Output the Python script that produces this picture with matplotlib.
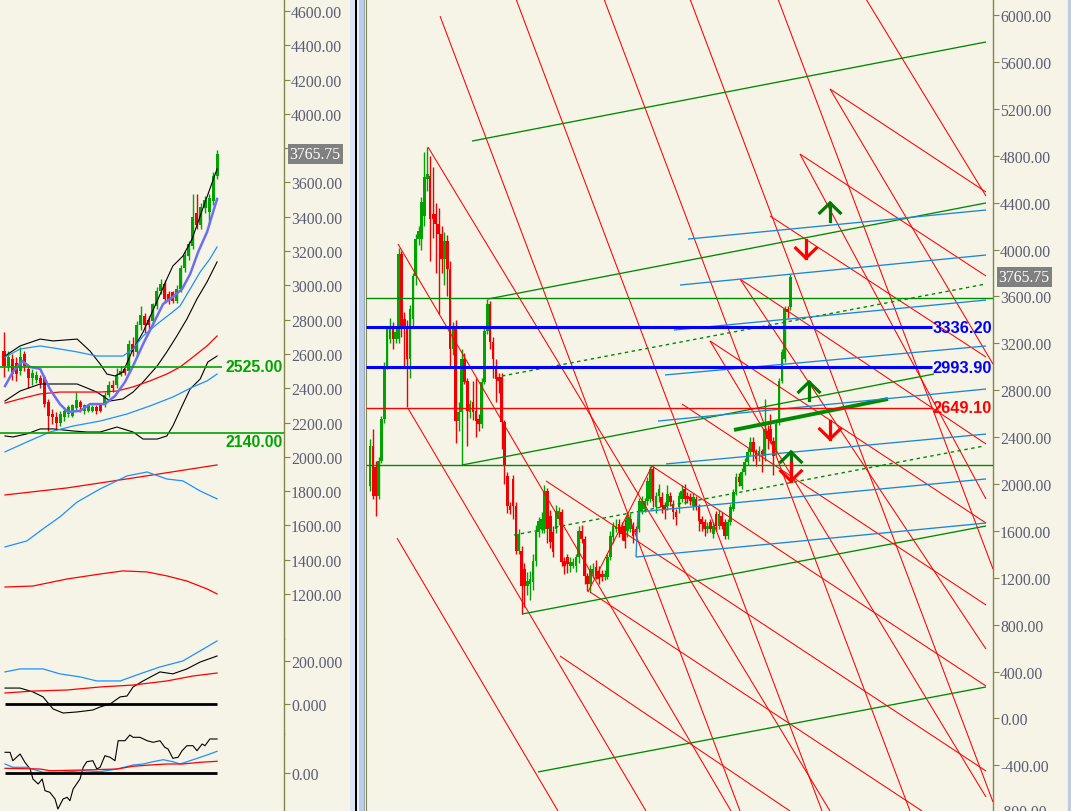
import matplotlib
matplotlib.use('Agg')
import matplotlib.pyplot as plt
import matplotlib.transforms as mtransforms
from matplotlib.patches import Rectangle
import numpy as np

# ---------------- data: right panel (bar index, price) ----------------
r_open = [1983,2324,2145,1898,2196,2554,3006,3237,3347,3237,
          3237,3962,3407,3347,3066,3407,3774,4090,
          4090,4286,4601,4627,4303,4303,4218,4132,3919,4073,3834,3151,3347,2537,2614,3066,2878,2614,
          2700,2622,2554,2512,2870,3305,3535,3210,3006,2912,2912,2529,2068,1812,
          2043,1812,1429,1429,1275,1130,1147,1164,1343,1590,1616,1616,1940,1727,1590,1616,1701,1761,1343,1377,
          1300,1300,1300,1377,1600,1531,1215,1147,1233,1292,1258,1233,1207,
          1207,1377,1548,1616,1659,1633,1642,1600,1616,1642,1616,1616,1770,1787,1855,1872,2128,1804,1898,1889,
          1821,1812,
          1898,1830,1761,1804,1872,1957,
          1898,1889,1812,1872,1812,1701,1676,
          1616,1676,1574,1744,1642,1727,1676,1556,1676,1787,1932,2060,1983,2102,2188,2273,2358,2281,2239,2281,
          2239,2452,2469,2367,2273,2529,2878,3066,3492,3509]
r_close = [2324,1898,1898,2196,2554,3006,3322,3339,3237,3300,
           3962,3322,3322,3066,3492,3774,4090,4160,
           4405,4618,4644,4260,4260,4218,4132,3919,4073,3834,3151,3347,2537,2614,3066,2870,2622,2680,
           2614,2537,2512,2870,3305,3535,3210,3066,2895,2878,2529,2153,1812,1780,
           1812,1429,1574,1130,1130,1173,1190,1343,1590,1684,1701,1940,1616,1505,1420,1770,1770,1335,1300,1318,
           1335,1335,1377,1600,1531,1215,1147,1275,1275,1215,1190,1207,1233,
           1377,1556,1642,1642,1600,1574,1514,1718,1701,1556,1590,1855,1855,1855,2026,2128,1855,1898,1957,1804,
           1787,1915,
           1846,1761,1718,1898,1940,1872,
           1872,1855,1889,1812,1684,1659,1616,
           1642,1616,1642,1642,1744,1642,1556,1676,1804,1932,2060,2017,2102,2188,2273,2358,2273,2213,2281,2256,
           2469,2384,2367,2239,2512,2878,3125,3492,3467,3766]
r_high = [2384,2469,2200,2230,2580,3040,3350,3420,3380,3350,
          4010,3990,3470,3400,3530,3800,4130,4200,
          4450,4830,4874,4800,4700,4400,4350,4200,4150,4120,3900,3380,3400,2700,3150,3120,2900,2720,
          2880,2900,2600,2900,3350,3578,3560,3250,3070,2950,2950,2550,2100,1850,
          2080,1850,1620,1470,1330,1250,1260,1400,1650,1720,1760,1990,1970,1780,1640,1820,1800,1790,1380,1400,
          1380,1370,1400,1640,1650,1560,1240,1310,1330,1350,1300,1270,1270,
          1400,1600,1680,1700,1700,1680,1700,1760,1750,1680,1640,1880,1900,1880,2060,2150,2150,1930,2000,1930,
          1850,1990,
          1930,1860,1790,1930,1990,2000,
          1930,1920,1920,1900,1830,1730,1700,
          1680,1700,1680,1770,1780,1760,1700,1700,1830,1960,2090,2090,2140,2220,2310,2400,2400,2300,2320,2300,
          2725,2500,2600,2400,2540,2900,3150,3520,3520,3790]
r_low = [1940,1872,1727,1870,2180,2520,2980,3200,3150,3200,
         3200,3250,3000,2657,2900,3350,3700,4040,
         4000,4200,4500,3900,4100,3800,3450,3800,3700,3600,3000,3100,2350,2450,2162,2850,2324,2560,
         2550,2400,2450,2480,2850,3280,3150,2900,2700,2780,2300,2000,1750,1740,
         1700,1400,1400,890,950,1050,1010,1100,1300,1550,1580,1580,1500,1450,1380,1580,1650,1300,1230,1240,
         1250,1280,1250,1330,1500,1150,1090,1080,1200,1190,1150,1170,1180,
         1190,1350,1500,1590,1550,1520,1450,1550,1590,1500,1550,1590,1740,1760,1820,1850,1800,1750,1850,1750,
         1700,1780,
         1810,1700,1650,1750,1850,1830,
         1840,1820,1780,1780,1600,1600,1560,
         1580,1590,1540,1600,1620,1620,1530,1530,1650,1770,1910,1980,1960,2080,2160,2250,2200,2150,2200,2100,
         2200,2300,2350,2080,2250,2500,2860,3040,3420,3480]

# trendlines (i0, v0, i1, v1) in bar index / price
red_lines = [
    (24.48, 5991, 129.37, -789), (51.05, 6136, 158.04, -789), (81.82, 6136, 188.81, -789),
    (111.89, 6136, 217.83, -712), (142.66, 6136, 217.83, 1275),
    (20.28, 4874, 160.84, -789), (13.29, 2645, 96.50, -789), (9.44, 1539, 65.73, -789),
    (9.79, 4047, 126.22, -789), (173.43, 6136, 215.38, 4456), (160.84, 5369, 217.83, 3023),
    (150.35, 4814, 215.38, 1872), (129.37, 3748, 215.38, 592), (118.88, 3220, 215.38, -670),
    (160.84, 5369, 215.38, 4490), (150.35, 4814, 215.38, 3774), (139.86, 4286, 215.38, 3083),
    (129.37, 3748, 215.38, 2341), (118.88, 3220, 215.38, 1667), (109.09, 2682, 215.38, 968),
    (98.60, 2153, 215.38, 277), (61.54, 2026, 215.38, -448), (76.92, 1079, 193.01, -789),
    (66.43, 533, 146.85, -789), (76.22, 1079, 98.60, 2153),
]
green_lines = [
    (35.66, 4925, 215.38, 5770), (41.26, 3578, 215.38, 4397), (32.17, 2162, 197.20, 2938),
    (53.15, 891, 215.38, 1642), (58.74, -456, 215.38, 269),
]
green_dotted = [(46.15, 2921, 215.38, 3706), (50.35, 1565, 214.70, 2324)]
green_thick = [(127.27, 2461, 181.12, 2725)]
blue_lines = [
    (111.19, 4089, 215.38, 4337), (108.39, 3697, 215.38, 3953), (106.29, 3313, 215.38, 3569),
    (103.15, 2930, 215.38, 3177), (100.70, 2537, 215.38, 2810), (103.50, 2171, 215.38, 2426),
    (93.71, 1761, 215.38, 2043), (93.01, 1377, 215.38, 1667), (93.01, 1377, 93.71, 1761),
]
green_levels = [3586, 2162]
blue_levels = [3336.20, 2993.90]
red_levels = [2649.10]
up_arrows = [(160.84, 4397), (153.5, 2870), (147.2, 2273)]
down_arrows = [(152.45, 3927), (160.84, 2384), (147.2, 2026)]
last_price = 3765.75
right_ticks = list(range(-400, 6001, 400))

# ---------------- data: left panel ----------------
l_open = [2617,2530,2571,2548,2501,2600,2513,2460,2450,2460,2466,2320,2250,2230,2195,2230,2250,2240,2285,2320,
          2270,2270,2270,2290,2300,2300,2360,2420,2420,2480,2510,2500,2660,2610,2770,2820,2800,2790,2880,2970,
          3010,2950,2960,2910,2980,3100,3170,3230,3420,3350,3450,3430,3490,3640]
l_close = [2530,2583,2483,2483,2583,2530,2460,2490,2480,2430,2308,2238,2230,2195,2250,2265,2290,2300,2330,2290,
           2300,2300,2290,2270,2270,2360,2420,2400,2480,2500,2490,2660,2610,2770,2830,2770,2770,2890,2970,3010,
           2920,2910,2910,2980,3100,3180,3240,3400,3350,3460,3500,3510,3640,3766]
l_high = [2728,2620,2600,2580,2640,2620,2530,2510,2500,2480,2480,2340,2280,2260,2270,2290,2300,2310,2380,2330,
          2310,2310,2300,2300,2310,2380,2440,2450,2520,2530,2520,2680,2700,2790,2880,2840,2820,2900,2990,3040,
          3030,2970,2970,3000,3120,3200,3260,3530,3530,3480,3520,3530,3660,3790]
l_low = [2466,2500,2450,2440,2480,2500,2400,2420,2430,2400,2290,2150,2190,2160,2180,2210,2230,2230,2270,2260,
         2250,2260,2260,2250,2260,2290,2350,2380,2400,2470,2480,2490,2590,2590,2740,2720,2730,2770,2860,2950,
         2900,2890,2900,2900,2960,3080,3150,3210,3330,3330,3420,3350,3470,3620]

ma_x = [0.25,2.2,4.5,6.5,9,11.4,13.9,15.9,18.9,21.4,25.1,27.6,30.1,32.1,34.6,37.1,39.6,42,44.3,46.3,48.3,50.5,53]
ma_v = [2413,2495,2559,2524,2513,2396,2308,2262,2268,2308,2308,2355,2437,2530,2658,2775,2892,2932,2979,3066,3195,3311,3504]
bu_x = [0.25,4,9,12.2,18.2,21.4,23.9,25.6,27.6,29.6,31.8,34.6,38.1,40.5,42,44.5,46.8,48.8,51.2,53]
bu_v = [2588,2647,2687,2676,2687,2617,2542,2483,2472,2495,2612,2728,2909,3037,3113,3171,3271,3405,3562,3679]
bm_x = [0.25,4,9,13.2,18.2,23.1,26.4,29.6,32.1,34.6,38.1,40.5,43,45.5,48,50.5,53]
bm_v = [2326,2384,2425,2425,2425,2378,2326,2338,2378,2437,2530,2612,2705,2804,2921,3020,3137]
bl_x = [0.25,2.2,5.7,9,12.2,17.2,20.6,23.9,28.1,32.1,34.6,38.1,40.5,42,44.3,46.3,48.8,50.7,53]
bl_v = [2122,2116,2134,2163,2163,2151,2145,2145,2174,2145,2104,2104,2122,2180,2297,2396,2454,2553,2588]
cm_x = [0.25,4,9,13.9,18.2,23.1,26.4,29.6,32.1,34.6,38.1,41.3,43.8,46.3,48.8,51.2,53]
cm_v = [2582,2629,2647,2629,2612,2588,2588,2588,2629,2705,2775,2833,2880,2979,3078,3154,3224]
cl_x = [0.25,5.7,11.4,17.2,23.9,30.6,36.3,42,47,50.5,53]
cl_v = [2029,2087,2145,2180,2209,2250,2297,2349,2408,2443,2483]
rm_x = [0.25,4,9,13.9,18.9,23.9,28.1,32.1,36.3,40.5,43.8,47,50.5,53]
rm_v = [2314,2338,2367,2378,2378,2378,2384,2408,2443,2483,2524,2582,2647,2705]
r2_x = [0.25,15.7,32.1,53]
r2_v = [1778,1819,1877,1953]
b2_x = [0.25,5.7,9.7,13.9,18.2,23.9,30.6,35.6,40.5,44.5,48.8,53]
b2_v = [1475,1510,1580,1650,1737,1813,1889,1912,1871,1860,1801,1755]
r3_x = [0.25,7.2,15.7,23.9,29.6,35.6,40.5,45.5,50.5,53]
r3_v = [1241,1247,1288,1317,1335,1329,1306,1276,1230,1201]
left_levels = [2525.00, 2140.00]
left_ticks = list(range(1200, 4601, 200))

macd_bx = [0.25,4,9.7,13.9,18.9,23.1,28.9,33.8,38.8,44.5,48.8,53]
macd_bv = [149,163,163,140,126,107,107,140,172,200,247,293]
macd_kx = [0.25,4,7.2,9.7,12.2,14.7,18.2,22.1,23.9,26.4,28.9,30.6,32.1,34.6,38.8,42,45.5,48.8,53]
macd_kv = [74,74,56,33,-23,-42,-37,-28,-14,0,33,37,79,107,149,140,163,195,223]
macd_rx = [0.25,7.2,15.7,23.9,32.1,40.5,47,53]
macd_rv = [51,60,65,79,88,107,130,144]

osc_kx = [0.25,1.5,2.2,4,5.2,6.5,7.2,8.5,9.5,10.2,11.4,12.7,13.4,14.7,15.7,16.4,17.2,18.9,19.7,20.6,22.1,23.1,
          23.9,25.1,26.4,27.6,28.4,30.1,31.3,32.1,33.8,35.6,37.1,38.8,40,40.8,42,43.3,44.3,45.5,47,48,49.3,50,51.2,53]
osc_kv = [20.7,20.7,12.3,19,10.7,4,-6,-11,-6,-17.7,-19.3,-26,-36,-26,-24.3,-27.7,-16,-6,5.7,11.3,12.3,4,5.7,17.3,
          15.7,12.3,32.3,32.3,38,35.7,35.7,32.3,30.7,32.3,25.7,24,14.7,15.7,22.3,27.3,27.3,22.3,29,27.3,34,34]
osc_bx = [0.25,2.2,5.7,9.7,13.9,19.7,23.9,28.1,32.1,34.6,37.1,39.6,42,43.8,46.3,48.8,51.2,53]
osc_bv = [9,5.7,5.7,0.7,0.7,2.3,1.3,4,8,9,11.3,13.3,11.3,9,12.3,15.7,19,21.7]
osc_rx = [0.25,9,11.4,19.7,28.1,32.1,36.3,40.5,44.5,48.8,53]
osc_rv = [4.7,4,2.3,3,4,6.7,8,9,9,10.7,11.7]

# ---------------- style ----------------
W, H = 1071, 812
BG = '#F6F4E7'
OLIVE = '#85854A'
TICKC = '#5C5C72'
GREEN = '#00A300'
RED = '#F00000'
LGREEN = '#008A00'
LBLUE = '#1C86D6'
TFONT = 'Liberation Serif'
BFONT = 'Liberation Sans'

fig = plt.figure(figsize=(W / 100, H / 100), dpi=100)
fig.patch.set_facecolor(BG)


def px_axes(x0, y0, x1, y1):
    ax = fig.add_axes([x0 / W, 1 - y1 / H, (x1 - x0) / W, (y1 - y0) / H])
    ax.set_facecolor(BG)
    for s in ax.spines.values():
        s.set_visible(False)
    ax.spines['right'].set_visible(True)
    ax.spines['right'].set_color(OLIVE)
    ax.spines['right'].set_linewidth(1.0)
    ax.set_xticks([])
    ax.yaxis.tick_right()
    ax.tick_params(axis='y', direction='out', length=4, width=0.8, colors=OLIVE,
                   labelcolor=TICKC, labelsize=11.3, pad=1, labelfontfamily=TFONT)
    return ax


def draw_candles(ax, O, C, Hh, L, width, min_h, wick_lw):
    x = np.arange(len(O))
    O = np.array(O, float); C = np.array(C, float)
    cols = [GREEN if c >= o else RED for o, c in zip(O, C)]
    ax.vlines(x, L, Hh, colors=cols, linewidth=wick_lw, zorder=2)
    bottom = np.minimum(O, C)
    height = np.maximum(np.abs(C - O), min_h)
    ax.bar(x, height, bottom=bottom, width=width, color=cols, linewidth=0, zorder=2)


def draw_segments(ax, segs, color, lw, ls='-', z=3):
    for (a, b, c, d) in segs:
        ax.plot([a, c], [b, d], color=color, lw=lw, ls=ls, zorder=z, solid_capstyle='butt')


# ---------------- right panel ----------------
axr = px_axes(366, 0, 993, 812)
axr.spines['left'].set_visible(True)
axr.spines['left'].set_color(OLIVE)
axr.set_xlim(-1.40, 217.83)
axr.set_ylim(-789, 6136.5)
axr.set_yticks(right_ticks)
axr.set_yticklabels(['%.2f' % t for t in right_ticks])

draw_candles(axr, r_open, r_close, r_high, r_low, 0.92, 9, 1.0)
draw_segments(axr, red_lines, '#FF0000', 0.75)
draw_segments(axr, green_lines, LGREEN, 0.95)
draw_segments(axr, green_dotted, LGREEN, 1.0, ls=(0, (2.5, 2.5)))
draw_segments(axr, green_thick, LGREEN, 2.8)
draw_segments(axr, blue_lines, LBLUE, 0.95)
for v in green_levels:
    axr.hlines(v, -1.40, 217.83, color=LGREEN, lw=1.0, zorder=3)
for v in blue_levels:
    axr.hlines(v, -1.40, 196.5, color='#0000FF', lw=2.2, zorder=4)
    axr.text(217.5, v, '%.2f' % v, color='#0000FF', fontsize=11.8, fontweight='bold',
             family=BFONT, ha='right', va='center', zorder=5)
for v in red_levels:
    axr.hlines(v, -1.40, 196.5, color='#FF0000', lw=1.0, zorder=4)
    axr.text(217.5, v, '%.2f' % v, color='#FF0000', fontsize=11.8, fontweight='bold',
             family=BFONT, ha='right', va='center', zorder=5)

DX, DY, STEM = 3.6, 85, 150
for (i, v) in up_arrows:
    axr.plot([i - DX, i, i + DX], [v - DY, v, v - DY], color='#007A00', lw=2.3, zorder=6,
             solid_joinstyle='miter')
    axr.plot([i, i], [v, v - STEM], color='#007A00', lw=2.3, zorder=6)
for (i, v) in down_arrows:
    axr.plot([i - DX, i, i + DX], [v + DY, v, v + DY], color='#FF0000', lw=2.3, zorder=6,
             solid_joinstyle='miter')
    axr.plot([i, i], [v, v + STEM], color='#FF0000', lw=2.3, zorder=6)

tr_r = mtransforms.blended_transform_factory(axr.transAxes, axr.transData)
axr.text(1 + 5.5 / 627, last_price, '%.2f' % last_price, transform=tr_r, color='white',
         fontsize=11.3, family=TFONT, ha='left', va='center', zorder=10,
         bbox=dict(boxstyle='square,pad=0.12', fc='#808080', ec='none'))
axr.text(1 + 5 / 627, -800, '-800.00', transform=tr_r, color=TICKC, fontsize=11.3,
         family=TFONT, ha='left', va='center', clip_on=False)

# ---------------- left main panel ----------------
axl = px_axes(0, 0, 284, 640)
axl.set_xlim(-0.995, 69.65)
axl.set_ylim(938, 4670)
axl.set_yticks(left_ticks)
axl.set_yticklabels(['%.2f' % t for t in left_ticks])
draw_candles(axl, l_open, l_close, l_high, l_low, 0.75, 6, 1.0)
axl.plot(bu_x, bu_v, color='black', lw=0.8, zorder=3)
axl.plot(bm_x, bm_v, color='black', lw=0.8, zorder=3)
axl.plot(bl_x, bl_v, color='black', lw=0.8, zorder=3)
axl.plot(cm_x, cm_v, color='#1E90FF', lw=0.9, zorder=3)
axl.plot(cl_x, cl_v, color='#1E90FF', lw=0.9, zorder=3)
axl.plot(rm_x, rm_v, color='#FF0000', lw=0.9, zorder=3)
axl.plot(ma_x, ma_v, color='#6E6EF2', lw=1.8, zorder=4)
axl.plot(r2_x, r2_v, color='#FF0000', lw=0.9, zorder=3)
axl.plot(b2_x, b2_v, color='#1E90FF', lw=0.9, zorder=3)
axl.plot(r3_x, r3_v, color='#FF0000', lw=0.9, zorder=3)
axl.hlines(left_levels[0], -0.995, 54.2, color=GREEN, lw=1.2, zorder=4)
axl.hlines(left_levels[1], -0.995, 69.65, color=GREEN, lw=1.2, zorder=4)
axl.text(55.0, left_levels[0], '%.2f' % left_levels[0], color=GREEN, fontsize=11.4,
         fontweight='bold', family=BFONT, ha='left', va='center', zorder=5)
axl.text(55.0, 2088, '%.2f' % left_levels[1], color=GREEN, fontsize=11.4,
         fontweight='bold', family=BFONT, ha='left', va='center', zorder=5)
tr_l = mtransforms.blended_transform_factory(axl.transAxes, axl.transData)
axl.text(1 + 5.5 / 284, last_price, '%.2f' % last_price, transform=tr_l, color='white',
         fontsize=11.3, family=TFONT, ha='left', va='center', zorder=10,
         bbox=dict(boxstyle='square,pad=0.12', fc='#808080', ec='none'))

# ---------------- left MACD panel ----------------
axm = px_axes(0, 640, 284, 735)
axm.set_xlim(-0.995, 69.65)
axm.set_ylim(-139.5, 302)
axm.set_yticks([0, 200])
axm.set_yticklabels(['0.000', '200.000'])
axm.plot(macd_bx, macd_bv, color='#1E90FF', lw=0.9)
axm.plot(macd_kx, macd_kv, color='black', lw=0.8)
axm.plot(macd_rx, macd_rv, color='#FF0000', lw=0.9)
axm.hlines(0, 0.25, 53, color='black', lw=2.0)

# ---------------- left oscillator panel ----------------
axo = px_axes(0, 735, 284, 812)
axo.set_xlim(-0.995, 69.65)
axo.set_ylim(-38, 39)
axo.set_yticks([0])
axo.set_yticklabels(['0.00'])
axo.plot(osc_kx, osc_kv, color='black', lw=0.8)
axo.plot(osc_bx, osc_bv, color='#1E90FF', lw=0.9)
axo.plot(osc_rx, osc_rv, color='#FF0000', lw=0.9)
axo.hlines(0, 0.25, 53, color='black', lw=2.0)

# ---------------- separators ----------------
for (x0, x1, c) in [(350, 355, '#DCE6F2'), (355, 357, '#000000'), (357, 358.5, '#EEF2F8'),
                    (358.5, 363.5, '#B9CDE6'), (363.5, 365, '#93A5BF'), (1067, 1068, '#E8EEF6'),
                    (1068, 1071, '#B9CDE6')]:
    fig.add_artist(Rectangle((x0 / W, 0), (x1 - x0) / W, 1, transform=fig.transFigure,
                             facecolor=c, edgecolor='none', zorder=20))

fig.savefig('out.png', dpi=100, facecolor=BG)
